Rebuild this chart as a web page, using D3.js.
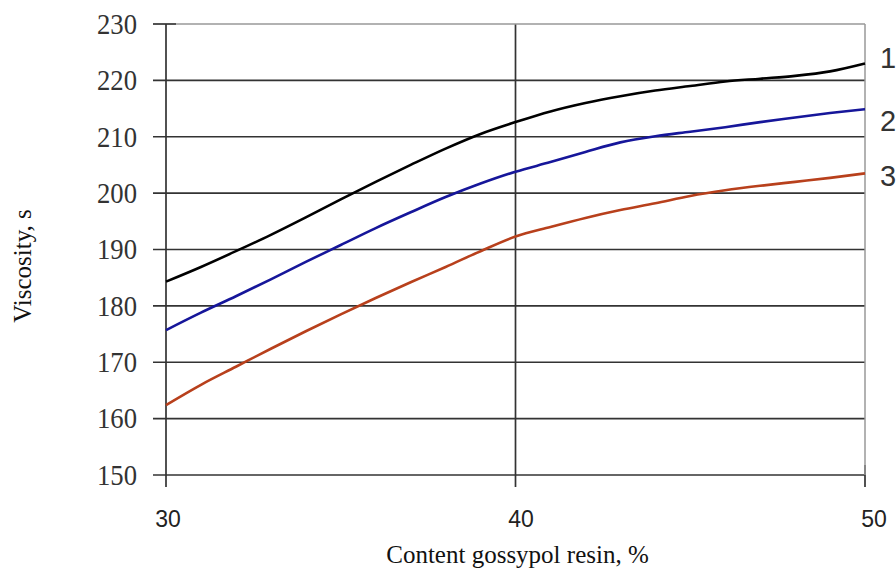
<!DOCTYPE html>
<html>
<head>
<meta charset="utf-8">
<script src="https://cdn.jsdelivr.net/npm/d3@7"></script>
<style>
  body { margin: 0; background: #fff; }
  svg { display: block; }
  .grid line { stroke: #333; stroke-width: 1.7; }
  .ylab { font-family: "Liberation Serif", serif; font-size: 29px; fill: #333; }
  .xlab { font-family: "Liberation Sans", sans-serif; font-size: 23px; fill: #222; }
  .title { font-family: "Liberation Serif", serif; font-size: 25px; fill: #111; }
  .serlab { font-family: "Liberation Sans", sans-serif; font-size: 29px; fill: #333; }
</style>
</head>
<body>
<svg id="chart" width="896" height="573"></svg>
<script>
const content = [30, 31, 32, 33, 34, 35, 36, 37, 38, 39, 40, 41, 42, 43, 44, 45, 46, 47, 48, 49, 50];
const visc1 = [184.3, 186.9, 189.7, 192.6, 195.7, 198.9, 202.0, 205.0, 207.9, 210.5, 212.6, 214.5, 216.0, 217.2, 218.2, 219.0, 219.8, 220.3, 220.8, 221.6, 223.0];
const visc2 = [175.7, 178.8, 181.7, 184.7, 187.8, 190.8, 193.8, 196.6, 199.3, 201.7, 203.8, 205.5, 207.3, 209.0, 210.1, 210.9, 211.7, 212.6, 213.4, 214.2, 214.9];
const visc3 = [162.4, 166.0, 169.2, 172.4, 175.5, 178.5, 181.4, 184.2, 186.9, 189.7, 192.3, 194.0, 195.6, 197.0, 198.2, 199.5, 200.5, 201.3, 202.0, 202.7, 203.5];
const seriesNames = ["1", "2", "3"];
const seriesColors = ["#000000", "#16169a", "#b8401c"];
const yTicks = [150, 160, 170, 180, 190, 200, 210, 220, 230];
const xTicks = [30, 40, 50];

const svg = d3.select("#chart");
const margin = { top: 24, right: 31, bottom: 98, left: 166 };
const width = 896, height = 573;

const x = d3.scaleLinear().domain([30, 50]).range([margin.left, width - margin.right]);
const y = d3.scaleLinear().domain([150, 230]).range([height - margin.bottom, margin.top]);

// horizontal grid + left ticks
const grid = svg.append("g").attr("class", "grid");
grid.selectAll("line.h")
  .data(yTicks)
  .join("line")
  .attr("class", "h")
  .attr("x1", x(30) - 13)
  .attr("x2", (d) => (d === 230 ? x(30) + 10 : x(50)))
  .attr("y1", (d) => y(d))
  .attr("y2", (d) => y(d));

// top & right frame (lighter)
svg.append("line")
  .attr("x1", x(30) + 10).attr("x2", x(50))
  .attr("y1", y(230)).attr("y2", y(230))
  .attr("stroke", "#999").attr("stroke-width", 1.5);
svg.append("line")
  .attr("x1", x(50)).attr("x2", x(50))
  .attr("y1", y(230)).attr("y2", y(150))
  .attr("stroke", "#999").attr("stroke-width", 1.5);

// vertical lines: axis, grid at 40, ticks
grid.append("line")
  .attr("x1", x(30)).attr("x2", x(30))
  .attr("y1", y(230)).attr("y2", y(150) + 12);
grid.append("line")
  .attr("x1", x(40)).attr("x2", x(40))
  .attr("y1", y(230)).attr("y2", y(150) + 12);
grid.append("line")
  .attr("x1", x(50)).attr("x2", x(50))
  .attr("y1", y(150) - 10).attr("y2", y(150) + 12);

// y tick labels (condensed serif)
svg.append("g").selectAll("text")
  .data(yTicks)
  .join("text")
  .attr("class", "ylab")
  .attr("x", x(30) - 29)
  .attr("y", (d) => y(d))
  .attr("dy", "0.34em")
  .attr("text-anchor", "end")
  .attr("textLength", 40)
  .attr("lengthAdjust", "spacingAndGlyphs")
  .text((d) => d);

// x tick labels
svg.append("g").selectAll("text")
  .data(xTicks)
  .join("text")
  .attr("class", "xlab")
  .attr("x", (d, i) => x(d) + 2 + i * 3.5)
  .attr("y", y(150) + 52)
  .attr("text-anchor", "middle")
  .text((d) => d);

// axis titles
svg.append("text")
  .attr("class", "title")
  .attr("x", (x(30) + x(50)) / 2 + 2)
  .attr("y", 563)
  .attr("text-anchor", "middle")
  .text("Content gossypol resin, %");

svg.append("text")
  .attr("class", "title")
  .attr("transform", "translate(31,266) rotate(-90)")
  .attr("text-anchor", "middle")
  .text("Viscosity, s");

// series lines
const allSeries = [visc1, visc2, visc3];
const line = d3.line()
  .x((d, i) => x(content[i]))
  .y((d) => y(d))
  .curve(d3.curveMonotoneX);

svg.append("g").selectAll("path")
  .data(allSeries)
  .join("path")
  .attr("fill", "none")
  .attr("stroke", (d, i) => seriesColors[i])
  .attr("stroke-width", 2.6)
  .attr("d", line);

// series labels at right
const labelShift = [-6, 12, 2];
svg.append("g").selectAll("text")
  .data(allSeries)
  .join("text")
  .attr("class", "serlab")
  .attr("x", x(50) + 15)
  .attr("y", (d, i) => y(d[d.length - 1]) + labelShift[i])
  .attr("dy", "0.35em")
  .text((d, i) => seriesNames[i]);
</script>
</body>
</html>
